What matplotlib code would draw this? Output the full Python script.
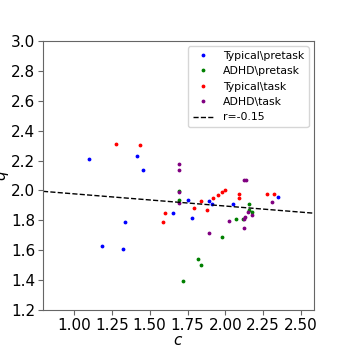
import matplotlib
matplotlib.use("Agg")
import matplotlib.pyplot as plt
import numpy as np

typ_pre_c = [1.097, 1.414, 1.454, 1.335, 1.185, 1.326, 1.652, 1.751, 1.782, 1.892, 1.910, 2.049, 2.348]
typ_pre_q = [2.208, 2.228, 2.137, 1.787, 1.626, 1.608, 1.847, 1.936, 1.817, 1.927, 1.907, 1.907, 1.956]

adhd_pre_c = [1.694, 1.694, 2.159, 2.159, 2.178, 2.119, 2.071, 1.980, 1.822, 1.841, 1.722]
adhd_pre_q = [1.996, 1.936, 1.907, 1.869, 1.855, 1.809, 1.807, 1.686, 1.539, 1.499, 1.396]

typ_task_c = [1.276, 1.438, 1.603, 1.586, 1.793, 1.841, 1.877, 1.919, 1.950, 1.978, 2.000, 2.093, 2.093, 2.274, 2.324]
typ_task_q = [2.313, 2.306, 1.851, 1.786, 1.882, 1.927, 1.871, 1.949, 1.967, 1.987, 2.003, 1.976, 1.947, 1.976, 1.976]

adhd_task_c = [1.694, 1.694, 1.694, 1.694, 2.126, 2.137, 2.311, 2.148, 2.174, 2.132, 2.126, 2.026, 2.126, 1.892]
adhd_task_q = [2.179, 2.135, 1.989, 1.916, 2.070, 2.070, 1.920, 1.855, 1.837, 1.820, 1.811, 1.797, 1.748, 1.713]

fit_slope = -0.0817
fit_intercept = 2.059
fit_label = "r=-0.15"

x_ticks = [1.00, 1.25, 1.50, 1.75, 2.00, 2.25, 2.50]
y_ticks = [1.2, 1.4, 1.6, 1.8, 2.0, 2.2, 2.4, 2.6, 2.8, 3.0]

fig = plt.figure(figsize=(3.49, 3.49), dpi=100)
ax = fig.add_axes([43/349, 1 - 310/349, (314 - 43)/349, (310 - 41)/349])

ms = 3.5
ax.plot(typ_pre_c, typ_pre_q, '.', color='blue', markersize=ms, label='Typical\\pretask')
ax.plot(adhd_pre_c, adhd_pre_q, '.', color='green', markersize=ms, label='ADHD\\pretask')
ax.plot(typ_task_c, typ_task_q, '.', color='red', markersize=ms, label='Typical\\task')
ax.plot(adhd_task_c, adhd_task_q, '.', color='purple', markersize=ms, label='ADHD\\task')

xlim = (0.795, 2.586)
xs = np.array(xlim)
ax.plot(xs, fit_intercept + fit_slope * xs, '--', color='black', linewidth=1, label=fit_label)

ax.set_xlim(*xlim)
ax.set_ylim(1.2, 3.0)
ax.set_xticks(x_ticks)
ax.set_xticklabels([f"{t:.2f}" for t in x_ticks])
ax.set_yticks(y_ticks)
ax.set_yticklabels([f"{t:.1f}" for t in y_ticks])
ax.tick_params(labelsize=11, color='#666666', pad=2)
for s in ax.spines.values():
    s.set_color('#666666')
ax.set_xlabel('$c$', fontsize=11, labelpad=0)
ax.set_ylabel('$q$', fontsize=11, labelpad=0)

ax.legend(loc='upper right', fontsize=7.8, handlelength=2, markerscale=1.0)

fig.savefig('out.png', dpi=100)
